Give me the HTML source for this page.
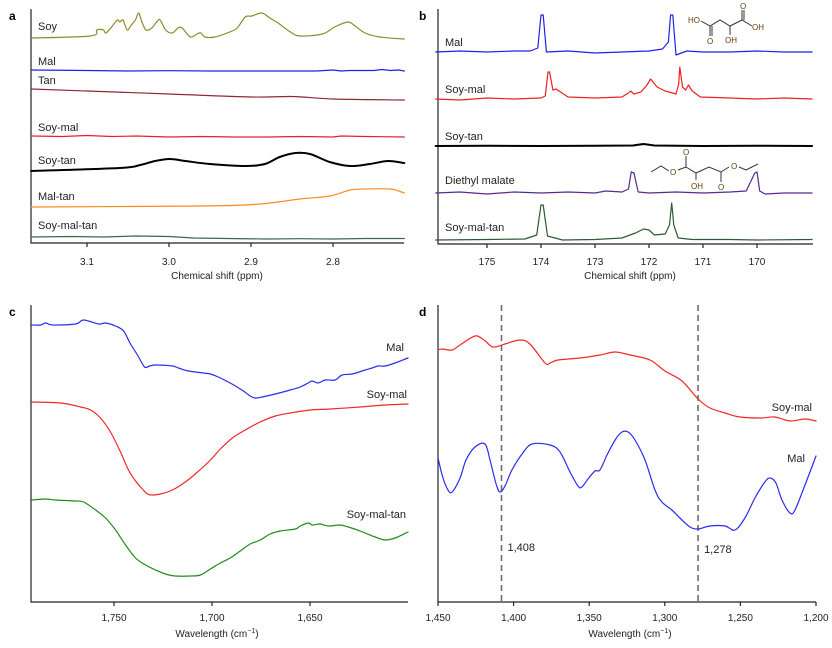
<!DOCTYPE html>
<html><head><meta charset="utf-8">
<style>
html,body{margin:0;padding:0;background:#fff;}
svg{display:block;font-family:"Liberation Sans",Arial,sans-serif;}
.tk{font-size:10px;fill:#222;text-anchor:middle;}
.lb{font-size:11px;fill:#222;}
.pl{font-size:12px;font-weight:bold;fill:#000;}
.ax{stroke:#222;stroke-width:1.2;fill:none;}
.tr{fill:none;stroke-linejoin:round;stroke-linecap:round;}
.st{stroke:#333;stroke-width:1;fill:none;}
.at{font-size:8px;fill:#6b3a0a;}
</style></head>
<body>
<svg id="fig" width="832" height="648" viewBox="0 0 832 648">
<text class="pl" x="9" y="20">a</text>
<text class="pl" x="419" y="20">b</text>
<text class="pl" x="9" y="316">c</text>
<text class="pl" x="419" y="316">d</text>

<g id="pa"></g>
<g id="pb"></g>
<g id="pc"></g>
<g id="pd"></g>

<g>
<polyline class="st" points="701,21 710,26 720,20 730,26 742,20 752,26"/>
<line class="st" x1="710" y1="26" x2="710" y2="36"/><line class="st" x1="712" y1="26" x2="712" y2="36"/>
<line class="st" x1="730" y1="26" x2="730" y2="35"/>
<line class="st" x1="742" y1="20" x2="742" y2="10"/><line class="st" x1="744" y1="20" x2="744" y2="10"/>
<text class="at" x="688" y="23">HO</text><text class="at" x="707" y="44">O</text>
<text class="at" x="725" y="43">OH</text><text class="at" x="740" y="9">O</text><text class="at" x="752" y="30">OH</text>
</g>
<g>
<polyline class="st" points="651,172 661,166 669,171"/>
<polyline class="st" points="678,170 686,167 696,173 709,167 721,172 729,167"/>
<polyline class="st" points="739,167 746,170 758,164"/>
<line class="st" x1="686" y1="167" x2="686" y2="156" stroke-width="2"/>
<line class="st" x1="696" y1="173" x2="696" y2="180"/>
<line class="st" x1="721" y1="172" x2="721" y2="182" stroke-width="2"/>
<text class="at" x="670" y="175" fill="#333">O</text><text class="at" x="683" y="155">O</text>
<text class="at" x="691" y="189">OH</text><text class="at" x="718" y="190">O</text><text class="at" x="731" y="169">O</text>
</g>
</svg>
<script>
// ---------- Panel a data (1H NMR, ppm vs intensity) ----------
const aSoyPpm=[3.168,3.096,3.088,3.080,3.077,3.070,3.063,3.060,3.056,3.051,3.046,3.041,3.037,3.033,3.028,3.021,3.013,3.010,3.004,2.996,2.989,2.984,2.974,2.966,2.961,2.956,2.944,2.926,2.917,2.907,2.899,2.887,2.877,2.867,2.852,2.840,2.813,2.798,2.782,2.773,2.761,2.743,2.713];
const aSoyVal=[1,3,9,9,6,12,19,17,19,9,14,19,26,17,9,11,19,18,9,6,11,11,2,5,6,2,2,7,11,22,23,26,21,16,7,3,5,12,17,13,6,2,0];
const aMalPpm=[3.168,3.10,3.05,3.0,2.95,2.9,2.85,2.82,2.80,2.79,2.78,2.75,2.74,2.73,2.72,2.713];
const aMalVal=[1,0.5,0,0.3,0,0,0,0,1,0,0.5,0.5,1.5,0.5,1,0];
const aTanPpm=[3.168,3.1,3.0,2.9,2.85,2.8,2.713];
const aTanVal=[11,9,6,3,3.5,1,0];
const aSoyMalPpm=[3.168,3.13,3.10,3.07,3.04,3.0,2.96,2.92,2.88,2.84,2.80,2.79,2.76,2.713];
const aSoyMalVal=[1,0.5,1.5,0.5,1,0,0.5,0,0,0.5,0,1,0.5,0];
const aSoyTanPpm=[3.168,3.060,3.035,3.017,2.999,2.980,2.950,2.907,2.883,2.865,2.846,2.828,2.804,2.779,2.755,2.733,2.713];
const aSoyTanVal=[0,3,6,10,12,10,7,5,7,14,18,17,9,5,7,10,8];
const aMalTanPpm=[3.168,2.962,2.889,2.840,2.804,2.779,2.761,2.730,2.713];
const aMalTanVal=[0,1,3,8,11,17,18,18,14];
const aSmtPpm=[3.168,3.12,3.08,3.04,3.0,2.97,2.93,2.88,2.84,2.80,2.76,2.713];
const aSmtVal=[2,2.5,2,3,2.5,1,0.5,0,0.3,0,0.5,0.5];
const aTicks=[3.1,3.0,2.9,2.8];
const aTickLabels=["3.1","3.0","2.9","2.8"];

// ---------- Panel b data (13C NMR) ----------
const bMalPpm=[175.95,175.5,175.0,174.5,174.2,174.06,174.0,173.96,173.90,173.5,173.0,172.5,172.0,171.75,171.64,171.60,171.56,171.50,171.3,171.0,170.5,170.0,169.5,168.98];
const bMalVal=[0,1,0,1,1,4,37,37,0,1,-1,0,1,3,10,37,37,-3,1,0,0,1,0,0];
const bSmPpm=[175.95,175.5,175.0,174.5,174.0,173.92,173.87,173.84,173.78,173.72,173.5,173.0,172.5,172.38,172.34,172.28,172.15,172.05,171.97,171.85,171.7,171.5,171.45,171.43,171.38,171.32,171.27,171.20,171.05,170.5,170.0,169.5,168.98];
const bSmVal=[0,-1,1,0,1,3,27,27,9,10,2,1,2,6,8,5,7,13,20,12,8,5,15,32,12,9,14,8,2,1,0,1,0];
const bStPpm=[175.95,175.0,174.0,173.0,172.3,172.1,171.9,171.0,170.0,168.98];
const bStVal=[0,0.3,0,0.3,0.5,2,0.5,0,0.3,0];
const bDmPpm=[175.95,175.5,175.0,174.5,174.0,173.5,173.0,172.8,172.5,172.38,172.33,172.28,172.2,172.0,171.5,171.0,170.5,170.2,170.04,170.0,169.95,169.85,169.5,168.98];
const bDmVal=[0,1,-1,1,0,1,0,2,1,4,21,20,1,0,1,0,1,2,20,21,2,-1,0,0];
const bSmtPpm=[175.95,175.0,174.3,174.08,174.0,173.96,173.88,173.6,173.0,172.5,172.25,172.1,172.0,171.9,171.7,171.62,171.58,171.54,171.46,171.2,170.5,170.0,168.98];
const bSmtVal=[0,0.5,1,5,35,35,4,0,0.5,2,7,11,10,5,6,15,37,15,2,0.5,0.5,0,0.5];
const bTicks=[175,174,173,172,171,170];
const bTickLabels=["175","174","173","172","171","170"];

// ---------- Panel c data (FTIR 1,800-1,600) ----------
const cMalWn=[1792,1787.4,1784.9,1781.3,1769.6,1765.5,1757.9,1754.3,1749.2,1745.1,1741.6,1738.0,1734.4,1731.9,1728.8,1720.2,1717.1,1712.0,1704.4,1700.8,1696.8,1690.7,1684.0,1680.5,1677.9,1674.4,1667.7,1660.1,1655.0,1650.9,1648.9,1645.8,1642.3,1637.2,1633.6,1628.5,1621.9,1618.3,1615.3,1611.7,1606.6,1600];
const cMalVal=[75,75,77,75,76,80,76,77,74,69,56,45,33,34,35,34,32,29,27,26,23,17,9,4,2,3,6,10,13,17,19,17,20,20,25,26,30,32,34,34,37,42];
const cSmWn=[1792,1777.2,1767.0,1762.0,1756.9,1751.8,1746.7,1742.6,1739.0,1735.5,1732.9,1730.4,1726.3,1720.2,1713.6,1708.5,1700.8,1695.7,1689.6,1683.0,1675.4,1667.7,1660.1,1649.9,1639.7,1624.4,1611.7,1600];
const cSmVal=[98,97,93,90,82,68,48,30,19,11,6,5,6,10,18,26,40,51,62,70,78,84,87,90,91,93,95,96];
const cSmtWn=[1792,1784.9,1779.8,1769.6,1765.5,1759.4,1754.3,1749.2,1744.1,1739.0,1733.9,1728.8,1723.8,1718.7,1711.0,1705.9,1700.8,1695.7,1690.7,1685.6,1680.5,1675.4,1670.3,1665.2,1657.5,1655.0,1650.9,1648.9,1644.8,1640.7,1634.6,1630.5,1624.4,1616.8,1611.7,1606.6,1600];
const cSmtVal=[100,101,100,99,98,90,82,70,55,42,35,30,26,24,24,25,31,37,42,49,56,60,66,69,71,74,77,75,76,74,75,73,69,63,60,62,68];
const cTicks=[1750,1700,1650];
const cTickLabels=["1,750","1,700","1,650"];

// ---------- Panel d data (FTIR 1,450-1,200) ----------
const dSmWn=[1450,1447.4,1440.7,1435.4,1425.5,1419.6,1413.6,1405.7,1395.8,1389.2,1379.2,1375.9,1370.6,1356.1,1342.9,1332.9,1323.0,1309.8,1299.9,1288.6,1278.0,1270.1,1260.2,1250.3,1237.0,1227.1,1217.2,1207.3,1200];
const dSmVal=[100,101,100,105,114,110,103,106,110,106,87,87,90,92,95,98,95,90,79,69,51,42,37,33,32,33,29,31,29];
const dMalWn=[1450,1446.7,1443.4,1440.7,1435.4,1431.5,1425.5,1418.9,1415.6,1411.6,1409.0,1405.7,1401.1,1394.4,1387.8,1375.9,1369.3,1362.7,1357.4,1354.8,1350.8,1346.2,1342.9,1338.2,1332.9,1328.3,1324.3,1319.7,1313.1,1306.5,1301.9,1295.3,1290.0,1283.4,1278.0,1270.1,1260.2,1253.6,1247.0,1240.4,1233.8,1230.4,1226.5,1222.5,1217.2,1213.9,1207.3,1200];
const dMalVal=[92,72,60,58,72,90,103,106,90,66,58,64,80,96,106,105,98,78,64,63,71,79,80,95,110,118,118,110,90,60,48,40,32,23,21,24,24,20,32,52,68,72,67,50,37,40,65,94];
const dMarks=[1408,1278];
const dMarkLabels=["1,408","1,278"];
const dTicks=[1450,1400,1350,1300,1250,1200];
const dTickLabels=["1,450","1,400","1,350","1,300","1,250","1,200"];

const NS="http://www.w3.org/2000/svg";
function mk(parent,tag,attrs){const e=document.createElementNS(NS,tag);for(const k in attrs)e.setAttribute(k,attrs[k]);parent.appendChild(e);return e;}
function lin(d0,d1,r0,r1){return v=>r0+(v-d0)*(r1-r0)/(d1-d0);}
function smoothPath(p){
  let d="M"+p[0][0].toFixed(1)+","+p[0][1].toFixed(1);
  for(let i=0;i<p.length-1;i++){
    const p0=p[i-1]||p[i],p1=p[i],p2=p[i+1],p3=p[i+2]||p2;
    const c1x=p1[0]+(p2[0]-p0[0])/6,c1y=p1[1]+(p2[1]-p0[1])/6;
    const c2x=p2[0]-(p3[0]-p1[0])/6,c2y=p2[1]-(p3[1]-p1[1])/6;
    d+="C"+c1x.toFixed(1)+","+c1y.toFixed(1)+" "+c2x.toFixed(1)+","+c2y.toFixed(1)+" "+p2[0].toFixed(1)+","+p2[1].toFixed(1);
  }
  return d;
}
function trace(g,xs,vals,xf,base,color,w,name,smooth){
  const pts=xs.map((x,i)=>[xf(x),base-vals[i]]);
  let p;
  if(smooth){p=mk(g,"path",{d:smoothPath(pts),class:"tr",stroke:color,"stroke-width":w});}
  else{p=mk(g,"polyline",{points:pts.map(q=>q[0].toFixed(1)+","+q[1].toFixed(1)).join(" "),class:"tr",stroke:color,"stroke-width":w});}
  
  
}
function label(g,x,y,txt,anchor,name){
  const t=mk(g,"text",{x:x,y:y,class:"lb","text-anchor":anchor||"start"});t.textContent=txt;
  
  
}
function axes(g,left,right,top,bottom,xf,ticks,tl,tickY,title,titleX,titleY,prefix){
  const a=mk(g,"polyline",{points:left+","+top+" "+left+","+bottom+" "+right+","+bottom,class:"ax"});
  
  
  ticks.forEach((v,i)=>{
    const x=xf(v);
    const l=mk(g,"line",{x1:x,x2:x,y1:bottom,y2:bottom+4,class:"ax"});
    
    
    const t=mk(g,"text",{x:x,y:tickY,class:"tk"});t.textContent=tl[i];
    
    
  });
  const tt=mk(g,"text",{x:titleX,y:titleY,class:"tk"});
  tt.innerHTML=title;
  
  
}

// Panel a
const ga=document.getElementById("pa");
const xa=lin(3.1,2.8,87,333);
axes(ga,31,404,9,243,xa,aTicks,aTickLabels,265,"Chemical shift (ppm)",217,279,"panel-a");
trace(ga,aSoyPpm,aSoyVal,xa,39,"#8b8b2e",1.2,"soy-trace",true);
trace(ga,aMalPpm,aMalVal,xa,71,"#1f1fef",1.2,"mal-trace",false);
trace(ga,aTanPpm,aTanVal,xa,100,"#8b2a35",1.2,"tan-trace",true);
trace(ga,aSoyMalPpm,aSoyMalVal,xa,137,"#e8202a",1.2,"soy-mal-trace",false);
trace(ga,aSoyTanPpm,aSoyTanVal,xa,171,"#000",2,"soy-tan-trace",true);
trace(ga,aMalTanPpm,aMalTanVal,xa,207,"#ff8a1c",1.2,"mal-tan-trace",true);
trace(ga,aSmtPpm,aSmtVal,xa,239,"#3a6a4a",1.2,"soy-mal-tan-trace",false);
label(ga,38,30,"Soy","start","soy-label");
label(ga,38,65,"Mal","start","mal-label");
label(ga,38,84,"Tan","start","tan-label");
label(ga,38,131,"Soy-mal","start","soy-mal-label");
label(ga,38,164,"Soy-tan","start","soy-tan-label");
label(ga,38,200,"Mal-tan","start","mal-tan-label");
label(ga,38,229,"Soy-mal-tan","start","soy-mal-tan-label");

// Panel b
const gb=document.getElementById("pb");
const xb=lin(175,170,487,757);
axes(gb,438,813,9,244,xb,bTicks,bTickLabels,265,"Chemical shift (ppm)",630,279,"panel-b");
trace(gb,bMalPpm,bMalVal,xb,52,"#1f1fef",1.2,"mal-trace",false);
trace(gb,bSmPpm,bSmVal,xb,99,"#f02020",1.2,"soy-mal-trace",false);
trace(gb,bStPpm,bStVal,xb,146,"#000",2,"soy-tan-trace",false);
trace(gb,bDmPpm,bDmVal,xb,193,"#5a2a8a",1.2,"diethyl-malate-trace",false);
trace(gb,bSmtPpm,bSmtVal,xb,240,"#2f5a35",1.2,"soy-mal-tan-trace",false);
label(gb,445,46,"Mal","start","mal-label");
label(gb,445,93,"Soy-mal","start","soy-mal-label");
label(gb,445,140,"Soy-tan","start","soy-tan-label");
label(gb,445,184,"Diethyl malate","start","diethyl-malate-label");
label(gb,445,231,"Soy-mal-tan","start","soy-mal-tan-label");

// Panel c
const gc=document.getElementById("pc");
const xc=lin(1750,1650,114,310);
axes(gc,31,408,305,602,xc,cTicks,cTickLabels,621,"Wavelength (cm<tspan dy='-4' font-size='7'>−1</tspan><tspan dy='4'>)</tspan>",217,637,"panel-c");
trace(gc,cMalWn,cMalVal,xc,400,"#2b2bf0",1.2,"mal-trace",true);
trace(gc,cSmWn,cSmVal,xc,500,"#f02828",1.2,"soy-mal-trace",true);
trace(gc,cSmtWn,cSmtVal,xc,600,"#1f8a1f",1.2,"soy-mal-tan-trace",true);
label(gc,404,351,"Mal","end","mal-label");
label(gc,407,398,"Soy-mal","end","soy-mal-label");
label(gc,406,518,"Soy-mal-tan","end","soy-mal-tan-label");

// Panel d
const gd=document.getElementById("pd");
const xd=lin(1450,1200,438,816);
axes(gd,438,816,305,602,xd,dTicks,dTickLabels,621,"Wavelength (cm<tspan dy='-4' font-size='7'>−1</tspan><tspan dy='4'>)</tspan>",630,637,"panel-d");
dMarks.forEach((v,i)=>{
  const x=xd(v);
  const l=mk(gd,"line",{x1:x,x2:x,y1:305,y2:602,stroke:"#6e6e6e","stroke-width":1.6,"stroke-dasharray":"6,4"});
  
  
  label(gd,x+6,i===0?551:553,dMarkLabels[i],"start","marker-label-"+dMarkLabels[i].replace(',',''));
});
trace(gd,dSmWn,dSmVal,xd,450,"#f02828",1.2,"soy-mal-trace",true);
trace(gd,dMalWn,dMalVal,xd,550,"#2b2bf0",1.2,"mal-trace",true);
label(gd,812,411,"Soy-mal","end","soy-mal-label");
label(gd,805,462,"Mal","end","mal-label");
</script>
</body></html>
